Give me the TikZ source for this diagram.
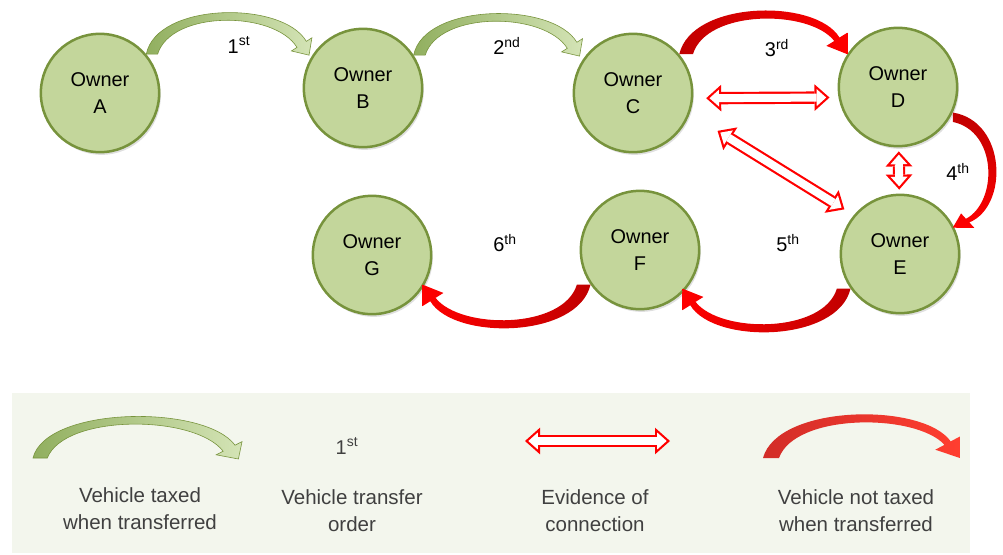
\documentclass[tikz,border=0pt]{standalone}
\usepackage{fontspec}
\setmainfont{Liberation Sans}
\usetikzlibrary{arrows.meta,shadows}

\definecolor{ownerfill}{RGB}{195,214,155}
\definecolor{ownerline}{RGB}{119,147,60}
\definecolor{taxdark}{RGB}{145,175,95}
\definecolor{taxlight}{RGB}{212,228,182}
\definecolor{notdark}{RGB}{192,0,0}
\definecolor{notlight}{RGB}{255,0,0}
\definecolor{keydark}{RGB}{210,45,40}
\definecolor{keylight}{RGB}{255,62,48}
\definecolor{evred}{RGB}{255,0,0}
\definecolor{legbg}{RGB}{243,246,237}
\definecolor{legtext}{RGB}{64,64,64}

\begin{document}
\begin{tikzpicture}[x=0.03cm,y=0.03cm,
  owner/.style={circle,draw=ownerline,fill=ownerfill,line width=0.075cm,minimum size=3.55cm,
    align=center,inner sep=0pt,font=\fontsize{17}{23}\selectfont,
    drop shadow={shadow xshift=0.05cm,shadow yshift=-0.08cm,opacity=0.25}},
  order/.style={font=\fontsize{17}{20}\selectfont},
  legend/.style={align=center,text=legtext,font=\fontsize{17.5}{23}\selectfont},
  taxed/.style={draw=ownerline,line width=0.5pt,left color=taxdark,right color=taxlight},
  untaxed/.style={left color=notdark,right color=notlight},
  untaxed back/.style={left color=notlight,right color=notdark},
  untaxed down/.style={top color=notdark,bottom color=notlight},
  untaxed key/.style={left color=keydark,right color=keylight},
  evidence/.style 2 args={draw=evred,line width=0.37cm,shorten <=#1,shorten >=#2,
    {Triangle[length=0.45cm,width=0.8cm,line width=0pt]}-{Triangle[length=0.45cm,width=0.8cm,line width=0pt]}},
  evidence in/.style 2 args={draw=white,line width=0.24cm,shorten <=#1+0.099cm,shorten >=#2+0.099cm,
    {Triangle[length=0.285cm,width=0.507cm,line width=0pt]}-{Triangle[length=0.285cm,width=0.507cm,line width=0pt]}},
  pics/taxed arrow/.style={code={
    \path[#1] (0,0) .. controls (10,52) and (132,54) .. (155.4,12.8) -- (160.8,16.4) -- (158,-1)
      -- (140.9,3.2) -- (146.3,6.8) .. controls (124,44) and (24,44) .. (11,0) -- cycle;}},
  pics/untaxed arrow/.style={code={
    \path[#1] (0,0) .. controls (12,54) and (130,56) .. (152.6,16.6) -- (160.1,21.5) -- (160,0)
      -- (140.1,8.3) -- (147.6,13.2) .. controls (124,45) and (26,45) .. (13,0) -- cycle;}}
]
\useasboundingbox (0,0) rectangle (1003,-554);

% owners
\node[owner] (A) at (100,-93) {Owner\\A};
\node[owner] (B) at (363,-88) {Owner\\B};
\node[owner] (C) at (633,-93) {Owner\\C};
\node[owner] (D) at (898,-87) {Owner\\D};
\node[owner] (E) at (900,-254) {Owner\\E};
\node[owner] (F) at (640,-250) {Owner\\F};
\node[owner] (G) at (372,-255) {Owner\\G};

% transfers
\pic[xscale=1.03] at (A.40) {taxed arrow=taxed};
\pic[xscale=1.05] at (B.33) {taxed arrow=taxed};
\pic[xscale=1.05] at (C.40) {untaxed arrow=untaxed};
\pic[rotate=-90,xscale=0.72] at (D.-25) {untaxed arrow=untaxed down};
\pic[rotate=180,xscale=1.05] at (E.215) {untaxed arrow=untaxed back};
\pic[rotate=180,xscale=1.05] at (F.215) {untaxed arrow=untaxed back};

\node[order] (o1) at (239,-45) {1\textsuperscript{st}};
\node[order] (o2) at (507,-46) {2\textsuperscript{nd}};
\node[order] (o3) at (777,-48) {3\textsuperscript{rd}};
\node[order] (o4) at (958,-172) {4\textsuperscript{th}};
\node[order] (o5) at (788,-243) {5\textsuperscript{th}};
\node[order] (o6) at (505,-243) {6\textsuperscript{th}};

% connections
\draw[evidence={0.39cm}{0.27cm}] (C.-5) -- (D.190);
\draw[evidence in={0.39cm}{0.27cm}] (C.-5) -- (D.190);
\draw[evidence={0.98cm}{0.33cm}] (C.-20) -- (E.140);
\draw[evidence in={0.98cm}{0.33cm}] (C.-20) -- (E.140);
\draw[evidence={0.12cm}{0.12cm}] (D) -- (E);
\draw[evidence in={0.12cm}{0.12cm}] (D) -- (E);

% key
\fill[legbg] (12,-393) rectangle (970,-553);
\pic[xscale=1.3] at (33,-458) {taxed arrow=taxed};
\node[order,text=legtext] (k0) at (347,-446) {1\textsuperscript{st}};
\coordinate (ev a) at (525,-441);
\coordinate (ev b) at (670,-441);
\draw[evidence={0pt}{0pt}] (ev a) -- (ev b);
\draw[evidence in={0pt}{0pt}] (ev a) -- (ev b);
\pic[xscale=1.23] at (763,-458) {untaxed arrow=untaxed key};

\node[legend] (k1) at (140,-509) {Vehicle taxed\\when transferred};
\node[legend] (k2) at (352,-511) {Vehicle transfer\\order};
\node[legend] (k3) at (595,-511) {Evidence of\\connection};
\node[legend] (k4) at (856,-511) {Vehicle not taxed\\when transferred};
\end{tikzpicture}
\end{document}
